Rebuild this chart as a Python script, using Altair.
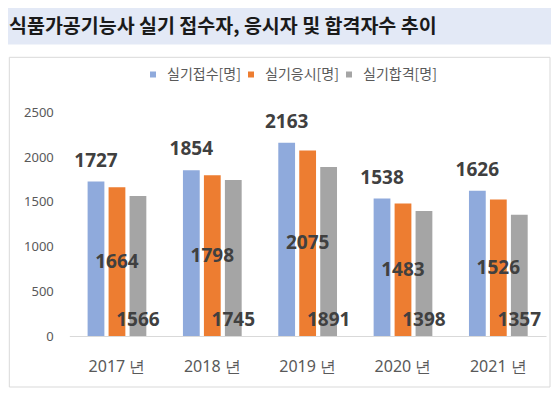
import altair as alt
import pandas as pd

years = ["2017 년", "2018 년", "2019 년", "2020 년", "2021 년"]
series = ["실기접수[명]", "실기응시[명]", "실기합격[명]"]
applied = [1727, 1854, 2163, 1538, 1626]
taken = [1664, 1798, 2075, 1483, 1526]
passed = [1566, 1745, 1891, 1398, 1357]
colors = ["#8FAADC", "#ED7D31", "#A5A5A5"]
title_text = "식품가공기능사 실기 접수자, 응시자 및 합격자수 추이"
y_ticks = [0, 500, 1000, 1500, 2000, 2500]

rows = []
for i, yr in enumerate(years):
    for s, vals in zip(series, [applied, taken, passed]):
        rows.append({"year": yr, "series": s, "value": vals[i]})
df = pd.DataFrame(rows)

W, H = 476.7, 223.5
PAD = {"left": 61.3, "top": 104.5, "right": 5, "bottom": 52}
FONT = "Noto Sans"
KFONT = "Noto Sans CJK KR"

x_enc = alt.X(
    "year:N", sort=years,
    scale=alt.Scale(paddingInner=0.384, paddingOuter=0.192),
    axis=alt.Axis(title=None, labelAngle=0, ticks=False, domainColor="#D9D9D9",
                  labelFontSize=16, labelColor="#595959", labelPadding=30,
                  labelBaseline="middle", labelFont=FONT),
)
xo_enc = alt.XOffset("series:N", sort=series,
                     scale=alt.Scale(paddingInner=0.2, paddingOuter=0))
y_scale = alt.Scale(domain=[0, 2500], nice=False)
y_axis = alt.Axis(title=None, values=y_ticks, format="d", grid=False, domain=False,
                  ticks=False, labelFontSize=13, labelColor="#595959", labelPadding=16,
                  labelFont=FONT)

deco = alt.Data(values=[{"t": title_text}])

band = alt.Chart(deco).mark_rect(fill="#E3E9F6").encode(
    x=alt.value(-61.3), x2=alt.value(W + 5), y=alt.value(-104.5), y2=alt.value(-67.9)
)
box = alt.Chart(deco).mark_rect(fill="transparent", stroke="#D9D9D9", strokeWidth=1).encode(
    x=alt.value(-60), x2=alt.value(480.7), y=alt.value(-55.2), y2=alt.value(274.5)
)
title = alt.Chart(deco).mark_text(
    align="left", baseline="middle", fontSize=19.5, fontWeight="bold",
    font=KFONT, color="#1a1a1a"
).encode(x=alt.value(-60.3), y=alt.value(-85.5), text="t:N")

bars = alt.Chart(df).mark_bar().encode(
    x=x_enc, xOffset=xo_enc,
    y=alt.Y("value:Q", scale=y_scale, axis=y_axis),
    color=alt.Color(
        "series:N", sort=series,
        scale=alt.Scale(domain=series, range=colors),
        legend=alt.Legend(title=None, orient="none", legendX=76.7, legendY=-45,
                          direction="horizontal", symbolType="square", symbolSize=36,
                          symbolStrokeWidth=0, labelFontSize=14, labelColor="#595959",
                          labelFont=KFONT, labelOffset=7, columnPadding=3, padding=0),
    ),
)

lab_style = dict(fontSize=19, fontWeight="bold", font=FONT, color="#404040")

top_labels = alt.Chart(df).transform_filter(
    alt.datum.series == series[0]
).mark_text(baseline="alphabetic", dy=-15, **lab_style).encode(
    x=x_enc, xOffset=xo_enc,
    y=alt.Y("value:Q", scale=y_scale, axis=y_axis),
    text=alt.Text("value:Q", format="d"),
)
mid_labels = alt.Chart(df).transform_filter(
    alt.datum.series == series[1]
).transform_calculate(mid="datum.value / 2").mark_text(
    baseline="middle", **lab_style
).encode(
    x=x_enc, xOffset=xo_enc,
    y=alt.Y("mid:Q", scale=y_scale, axis=y_axis),
    text=alt.Text("value:Q", format="d"),
)
base_labels = alt.Chart(df).transform_filter(
    alt.datum.series == series[2]
).transform_calculate(base="0").mark_text(
    baseline="alphabetic", dy=-10, **lab_style
).encode(
    x=x_enc, xOffset=xo_enc,
    y=alt.Y("base:Q", scale=y_scale, axis=y_axis),
    text=alt.Text("value:Q", format="d"),
)

chart = alt.layer(band, box, title, bars, top_labels, mid_labels, base_labels).properties(
    width=W, height=H,
    autosize=alt.AutoSizeParams(type="none"),
    padding=PAD,
    background="white",
).configure_view(stroke=None)

chart.save("out.html", embed_options={"renderer": "svg", "actions": False})
